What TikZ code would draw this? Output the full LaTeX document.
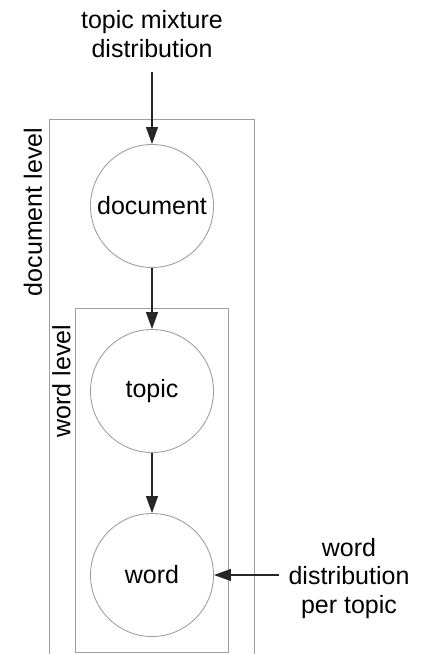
\documentclass[tikz,border=0pt]{standalone}
\usepackage{fontspec}
\setmainfont{Liberation Sans}
\usetikzlibrary{positioning, arrows.meta}

\tikzset{
    var/.style={circle, draw=gray!75, line width=0.9pt, minimum size=123pt, inner sep=0pt},
    plate/.style={draw=gray!75, line width=0.9pt},
    flow/.style={draw=black!85, line width=1.1pt, -{Triangle[length=17pt, width=12pt]}},
    lbl/.style={align=center, inner sep=0pt}
}

\begin{document}
\begin{tikzpicture}[x=1pt, y=-1pt, font=\fontsize{25}{28.5}\selectfont]
    \useasboundingbox (0,0) rectangle (427,654);
    % plates
    \draw[plate] (49.5,654) -- (49.5,119) -- (254,119) -- (254,654);
    \draw[plate] (75,308.5) rectangle (228.5,652);
    \node[rotate=90] (doclevel) at (33,212) {document level};
    \node[rotate=90] (wordlevel) at (61.5,381) {word level};
    % variables
    \node[var] (doc) at (152,206) {document};
    \node[var] (topic) at (152,391) {topic};
    \node[var] (word) at (152,575) {word};
    % priors
    \node[lbl] (mix) at (152,34) {topic mixture\\distribution};
    \node[lbl] (dist) at (349,578.5) {word\\distribution\\per topic};
    \draw[flow, shorten <=14pt] (mix) -- (doc);
    \draw[flow] (doc) -- (topic);
    \draw[flow] (topic) -- (word);
    \draw[flow, shorten <=9pt] (dist.west |- word) -- (word);
\end{tikzpicture}
\end{document}
